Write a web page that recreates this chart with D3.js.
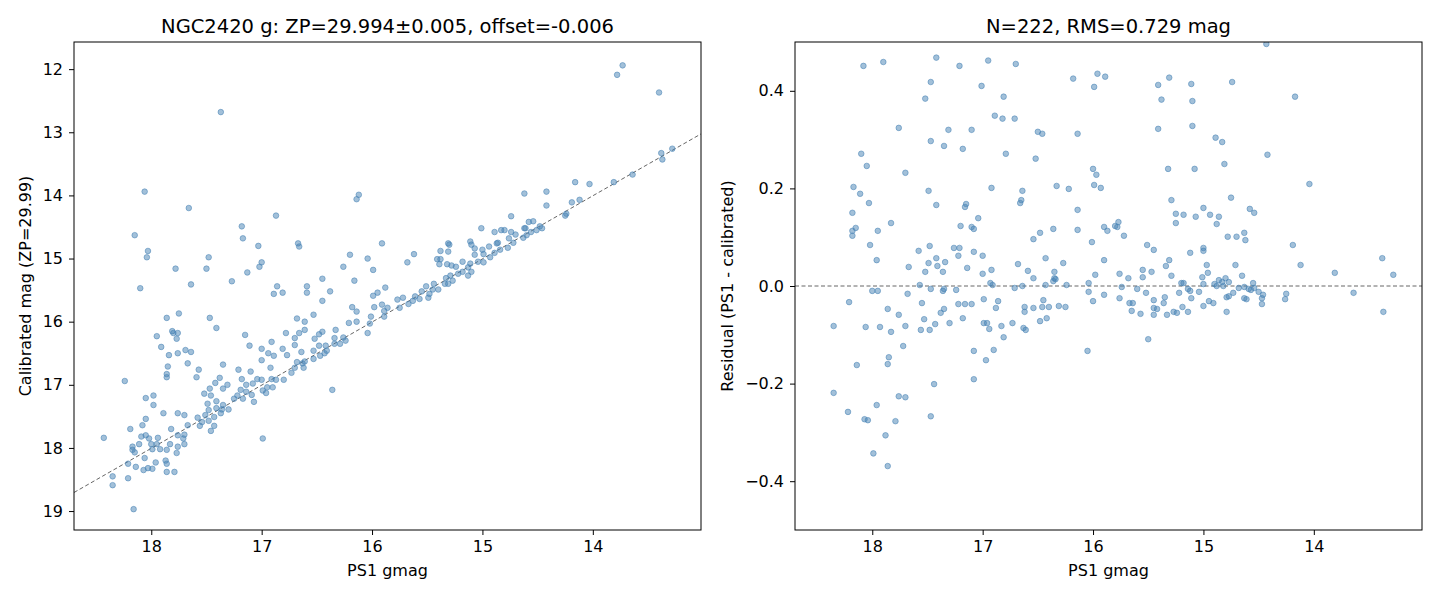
<!DOCTYPE html>
<html>
<head>
<meta charset="utf-8">
<script src="https://cdn.jsdelivr.net/npm/d3@7"></script>
<style>
  body { margin: 0; background: #fff; }
  text { font-family: "DejaVu Sans", sans-serif; fill: #000; }
  .axis text { font-size: 16px; font-family: "DejaVu Sans", sans-serif; }
  .axis path, .axis line { stroke: #000; }
</style>
</head>
<body>
<div id="chart"></div>
<script>
// values
var titleLeft = "NGC2420 g: ZP=29.994\u00b10.005, offset=-0.006";
var titleRight = "N=222, RMS=0.729 mag";
var offset = -0.006;
var magTicks = [18, 17, 16, 15, 14];
var calTicks = [12, 13, 14, 15, 16, 17, 18, 19];
var resTicks = [-0.4, -0.2, 0, 0.2, 0.4];

// [PS1 gmag, calibrated mag]
var calPoints = [
 [13.73,11.94],[13.78,12.09],[13.40,12.37],[17.37,12.68],[13.38,13.33],[13.37,13.43],[13.28,13.26],[13.64,13.67],
 [13.81,13.79],[14.03,13.82],[14.16,13.79],[14.12,14.07],[14.19,14.11],[14.24,14.29],[14.25,14.32],[14.42,13.94],
 [14.42,14.16],[14.62,13.97],[14.74,14.33],[14.58,14.42],[14.54,14.41],[14.62,14.52],[14.61,14.52],[14.46,14.52],
 [14.48,14.49],[14.51,14.55],[14.56,14.58],[14.60,14.63],[14.63,14.67],[14.70,14.62],[14.74,14.58],[14.80,14.55],
 [14.83,14.55],[14.89,14.58],[14.76,14.68],[14.72,14.75],[14.77,14.83],[15.01,14.52],[15.11,14.73],[15.10,14.78],
 [15.07,14.84],[14.94,14.81],[14.87,14.76],[14.86,14.75],[14.99,14.93],[15.00,14.86],[15.07,14.94],[15.04,15.05],
 [14.99,15.06],[14.93,14.98],[14.89,14.91],[14.84,14.86],[15.31,14.76],[15.30,14.78],[15.38,14.88],[15.31,14.89],
 [15.62,14.93],[15.68,15.06],[15.91,14.76],[15.41,15.01],[15.38,15.01],[15.39,15.09],[15.32,15.09],[15.28,15.11],
 [15.24,15.13],[15.18,15.05],[15.11,15.08],[15.13,15.14],[15.18,15.21],[15.22,15.24],[15.29,15.27],[15.33,15.31],
 [15.27,15.35],[15.31,15.40],[15.34,15.40],[15.44,15.40],[15.40,15.49],[15.45,15.49],[15.48,15.56],[15.51,15.44],
 [15.55,15.52],[15.57,15.64],[15.49,15.62],[15.61,15.60],[15.63,15.67],[15.67,15.72],[15.72,15.62],[15.77,15.65],
 [15.75,15.78],[15.86,15.78],[15.88,15.46],[15.91,15.73],[15.89,15.83],[15.89,15.92],[15.13,15.27],[15.10,15.21],
 [18.10,15.47],[17.64,15.41],[17.27,15.36],[16.86,15.44],[16.89,15.56],[16.81,15.54],[16.59,15.44],[16.59,15.54],
 [16.38,15.52],[16.45,15.67],[16.16,15.35],[15.99,15.59],[15.95,15.54],[16.18,15.77],[16.14,15.84],[15.98,15.77],
 [16.01,15.92],[16.14,16.00],[16.21,16.02],[16.04,16.18],[16.02,16.03],[17.86,15.94],[17.75,15.87],[17.47,15.94],
 [17.41,16.10],[17.95,16.23],[17.81,16.15],[17.80,16.18],[17.76,16.18],[17.77,16.27],[17.91,16.40],[17.84,16.53],
 [17.76,16.50],[17.69,16.45],[17.64,16.48],[17.85,16.71],[17.86,16.83],[17.86,16.88],[17.67,16.66],[17.57,16.76],
 [17.59,16.88],[18.24,16.94],[18.05,17.21],[17.98,17.17],[17.98,17.32],[17.89,17.45],[17.76,17.45],[17.70,17.48],
 [18.05,17.54],[18.08,17.64],[18.19,17.70],[17.82,17.70],[17.67,17.64],[18.43,17.84],[18.09,17.82],[18.05,17.80],
 [18.02,17.85],[17.94,17.84],[18.00,17.94],[17.95,17.94],[17.99,18.02],[17.92,18.02],[17.86,18.03],[17.83,17.94],
 [17.76,17.80],[17.70,17.79],[17.71,17.85],[17.76,17.98],[17.70,17.94],[17.77,18.08],[18.17,17.98],[18.17,18.03],
 [18.15,18.07],[18.11,17.94],[18.21,18.25],[18.14,18.30],[18.06,18.16],[17.96,18.23],[18.07,18.35],[18.03,18.32],
 [17.99,18.33],[17.87,18.20],[17.86,18.25],[17.86,18.38],[17.79,18.38],[18.35,18.45],[18.35,18.59],[18.21,18.48],
 [18.16,18.97],[17.35,16.68],[17.38,16.89],[17.42,16.97],[17.31,17.00],[17.35,17.06],[17.47,17.06],[17.52,17.14],
 [17.46,17.17],[17.41,17.26],[17.49,17.30],[17.48,17.40],[17.41,17.37],[17.35,17.32],[17.36,17.39],[17.30,17.39],
 [17.37,17.45],[17.43,17.51],[17.51,17.48],[17.58,17.52],[17.54,17.59],[17.56,17.65],[17.48,17.57],[17.43,17.65],
 [17.46,17.73],[17.21,16.76],[17.10,16.79],[17.18,16.91],[17.14,17.00],[17.08,16.98],[17.04,16.91],[17.00,16.92],
 [17.19,17.08],[17.14,17.11],[17.09,17.16],[17.22,17.17],[17.25,17.22],[17.17,17.22],[17.07,17.27],[16.99,17.09],
 [16.95,17.04],[16.96,17.13],[16.90,17.04],[16.91,16.91],[16.87,16.92],[16.80,16.92],[16.92,16.73],[17.00,16.61],
 [16.94,16.50],[16.89,16.54],[16.81,16.43],[16.77,16.53],[16.91,16.32],[17.00,16.43],[17.11,16.38],[17.15,16.21],
 [16.99,17.85],[16.73,16.81],[16.70,16.73],[16.68,16.64],[16.64,16.48],[16.63,16.66],[16.62,16.73],[16.61,16.63],
 [16.70,16.37],[16.70,16.26],[16.66,16.18],[16.61,16.13],[16.68,15.95],[16.61,16.00],[16.53,15.89],[16.78,16.18],
 [16.53,16.46],[16.53,16.59],[16.48,16.38],[16.52,16.27],[16.48,16.20],[16.45,16.16],[16.47,16.54],[16.42,16.38],
 [16.41,16.46],[16.43,16.50],[16.34,16.26],[16.33,16.13],[16.34,16.35],[16.29,16.35],[16.26,16.25],[16.24,16.30],
 [16.36,17.08],[18.06,13.94],[17.66,14.20],[18.15,14.63],[18.03,14.88],[18.04,14.98],[17.78,15.16],[17.50,15.16],
 [17.48,14.98],[17.18,14.49],[17.17,14.68],[17.03,14.80],[17.00,15.06],[17.02,15.13],[17.13,15.22],[16.87,14.32],
 [16.67,14.76],[16.66,14.81],[16.45,15.32],[16.26,15.13],[16.20,14.94],[16.14,14.06],[16.12,13.99],[16.04,15.00],
 [15.99,15.18]
];

// [PS1 gmag, residual]
var resPoints = [
 [18.08,0.451],[17.90,0.459],[17.42,0.468],[17.21,0.451],[16.95,0.462],[16.70,0.455],[17.47,0.418],[17.01,0.410],
 [17.52,0.384],[16.81,0.388],[16.89,0.349],[16.82,0.343],[16.71,0.343],[17.76,0.324],[17.31,0.320],[17.10,0.320],
 [17.47,0.297],[17.35,0.287],[17.18,0.281],[16.50,0.316],[16.46,0.312],[16.14,0.312],[16.18,0.425],[15.96,0.435],
 [15.89,0.429],[15.99,0.408],[16.79,0.271],[16.52,0.261],[18.10,0.271],[18.05,0.246],[17.70,0.232],[18.17,0.203],
 [18.11,0.189],[18.03,0.170],[18.18,0.150],[18.15,0.119],[18.18,0.113],[18.18,0.103],[17.95,0.113],[17.83,0.129],
 [18.02,0.084],[17.96,0.053],[17.49,0.195],[17.42,0.166],[16.92,0.201],[16.64,0.195],[16.65,0.176],[16.66,0.170],
 [17.15,0.168],[17.16,0.162],[16.33,0.205],[16.22,0.199],[16.00,0.240],[15.97,0.228],[15.99,0.207],[15.93,0.201],
 [16.14,0.156],[17.04,0.139],[17.20,0.123],[17.10,0.121],[17.08,0.117],[16.36,0.117],[16.48,0.109],[16.54,0.096],
 [16.14,0.115],[15.90,0.121],[15.87,0.113],[16.01,0.090],[17.48,0.082],[17.26,0.078],[17.21,0.078],[17.58,0.072],
 [17.22,0.062],[17.08,0.070],[17.00,0.062],[17.42,0.057],[17.34,0.049],[17.49,0.047],[17.41,0.041],[17.67,0.039],
 [17.52,0.029],[17.36,0.029],[17.14,0.037],[17.00,0.025],[16.92,0.033],[16.68,0.045],[16.59,0.031],[16.43,0.057],
 [16.27,0.047],[16.54,0.016],[16.35,0.029],[16.35,0.016],[16.34,0.014],[16.36,0.010],[15.90,0.053],[15.98,0.023],
 [16.04,0.006],[16.93,0.006],[16.91,0.002],[17.57,0.002],[16.24,0.002],[16.43,0.002],[16.64,0.000],[16.71,-0.004],
 [18.00,-0.010],[17.95,-0.010],[17.68,-0.016],[17.47,-0.006],[17.36,-0.010],[17.35,-0.006],[17.24,-0.008],[16.04,-0.012],
 [16.00,-0.031],[15.90,-0.018],[18.21,-0.033],[18.35,-0.082],[18.06,-0.084],[17.93,-0.084],[17.86,-0.047],[17.76,-0.059],
 [17.83,-0.094],[17.70,-0.082],[17.55,-0.035],[17.53,-0.068],[17.56,-0.090],[17.48,-0.090],[17.43,-0.078],[17.38,-0.055],
 [17.35,-0.047],[17.30,-0.076],[17.22,-0.037],[17.16,-0.037],[17.10,-0.037],[17.18,-0.066],[16.99,-0.027],[16.86,-0.031],
 [16.88,-0.045],[16.99,-0.076],[16.96,-0.076],[16.94,-0.088],[16.83,-0.082],[16.81,-0.105],[16.73,-0.076],[16.62,-0.043],
 [16.62,-0.053],[16.54,-0.045],[16.46,-0.043],[16.40,-0.043],[16.45,-0.029],[16.31,-0.041],[16.25,-0.043],[16.42,-0.066],
 [16.48,-0.072],[16.63,-0.086],[16.61,-0.090],[17.08,-0.133],[16.90,-0.131],[16.97,-0.152],[17.08,-0.191],[16.05,-0.133],
 [17.72,-0.123],[17.85,-0.146],[17.86,-0.160],[18.14,-0.162],[17.44,-0.201],[18.35,-0.219],[17.76,-0.226],[17.70,-0.228],
 [17.96,-0.244],[18.22,-0.258],[18.07,-0.273],[18.04,-0.275],[17.79,-0.277],[17.47,-0.267],[17.88,-0.306],[17.99,-0.343],
 [17.86,-0.369],[14.43,0.496],[15.41,0.412],[15.31,0.427],[15.11,0.414],[14.74,0.418],[15.38,0.382],[15.10,0.379],
 [14.17,0.388],[15.41,0.322],[15.10,0.328],[14.89,0.304],[14.83,0.295],[14.42,0.269],[14.81,0.250],[15.32,0.240],
 [15.08,0.240],[14.04,0.209],[15.29,0.176],[14.75,0.181],[15.00,0.160],[15.25,0.148],[15.18,0.146],[15.25,0.129],
 [15.07,0.142],[14.94,0.146],[14.86,0.142],[14.88,0.127],[14.58,0.158],[14.54,0.150],[15.78,0.121],[15.77,0.131],
 [15.72,0.103],[14.78,0.101],[14.70,0.101],[14.63,0.109],[14.62,0.094],[15.51,0.084],[15.45,0.074],[15.12,0.068],
 [15.00,0.078],[15.00,0.072],[14.19,0.084],[15.31,0.053],[15.34,0.041],[14.97,0.043],[14.71,0.043],[14.12,0.043],
 [13.38,0.057],[13.28,0.023],[13.81,0.027],[15.76,0.025],[15.68,0.016],[15.55,0.033],[15.55,0.018],[15.47,0.029],
 [15.29,0.021],[15.01,0.018],[14.96,0.027],[14.65,0.021],[14.80,0.016],[15.20,0.006],[15.18,0.006],[15.00,0.004],
 [14.86,0.012],[14.83,0.008],[14.77,0.008],[14.90,0.004],[14.88,0.000],[14.82,0.000],[14.55,0.006],[15.74,-0.002],
 [15.60,-0.006],[15.52,-0.014],[15.22,-0.014],[15.14,-0.006],[15.12,-0.010],[15.04,-0.012],[14.68,-0.004],[14.63,-0.002],
 [14.59,-0.006],[14.57,-0.008],[14.54,-0.004],[14.50,-0.012],[14.73,-0.014],[14.46,-0.018],[14.25,-0.016],[13.64,-0.014],
 [15.76,-0.025],[15.45,-0.029],[15.35,-0.023],[15.11,-0.025],[14.79,-0.023],[14.77,-0.021],[14.63,-0.025],[14.61,-0.027],
 [14.47,-0.025],[14.26,-0.027],[15.67,-0.035],[15.64,-0.035],[15.36,-0.035],[14.95,-0.031],[14.91,-0.035],[14.47,-0.037],
 [15.45,-0.045],[15.42,-0.047],[15.19,-0.043],[15.00,-0.041],[15.65,-0.051],[15.57,-0.057],[15.45,-0.059],[15.33,-0.059],
 [15.27,-0.053],[15.24,-0.055],[15.14,-0.053],[14.79,-0.053],[13.37,-0.053],[15.50,-0.109],[15.80,0.123]
];

var W = 1440, H = 600;
var svg = d3.select("#chart").append("svg").attr("width", W).attr("height", H);

var plotTop = 42, plotBottom = 530;
var fmt = function(d) { return d3.format(".1f")(d).replace("-", "\u2212"); };

function panel(x0, x1, yDomain, yTicks, yFmt, points, title, ylabel, labelGap, refLine) {
  var x = d3.scaleLinear().domain([18.70, 13.02]).range([x0, x1]);
  var y = d3.scaleLinear().domain(yDomain).range([plotTop, plotBottom]);
  var g = svg.append("g");

  g.append("g").attr("class", "axis").attr("transform", "translate(0," + plotBottom + ")")
    .call(d3.axisBottom(x).tickValues(magTicks).tickFormat(d3.format("d")).tickSize(5).tickPadding(6).tickSizeOuter(0))
    .call(function(a) { a.select(".domain").remove(); });
  g.append("g").attr("class", "axis").attr("transform", "translate(" + x0 + ",0)")
    .call(d3.axisLeft(y).tickValues(yTicks).tickFormat(yFmt).tickSize(5).tickPadding(6).tickSizeOuter(0))
    .call(function(a) { a.select(".domain").remove(); });

  var clip = "clip" + x0;
  g.append("clipPath").attr("id", clip).append("rect")
    .attr("x", x0).attr("y", plotTop).attr("width", x1 - x0).attr("height", plotBottom - plotTop);

  // reference line
  g.append("line")
    .attr("clip-path", "url(#" + clip + ")")
    .attr("x1", x0).attr("x2", x1)
    .attr("y1", y(refLine(18.70))).attr("y2", y(refLine(13.02)))
    .attr("stroke", "#666").attr("stroke-width", 1).attr("stroke-dasharray", "4,2.5");

  g.append("g").attr("clip-path", "url(#" + clip + ")")
    .selectAll("circle").data(points).enter().append("circle")
    .attr("cx", function(d) { return x(d[0]); })
    .attr("cy", function(d) { return y(d[1]); })
    .attr("r", 2.8)
    .attr("fill", "steelblue").attr("fill-opacity", 0.5)
    .attr("stroke", "steelblue").attr("stroke-opacity", 0.6).attr("stroke-width", 0.9);

  g.append("rect").attr("x", x0).attr("y", plotTop).attr("width", x1 - x0).attr("height", plotBottom - plotTop)
    .attr("fill", "none").attr("stroke", "#000").attr("stroke-width", 1);

  g.append("text").attr("x", (x0 + x1) / 2).attr("y", 33).attr("text-anchor", "middle")
    .style("font-size", "19.5px").text(title);
  g.append("text").attr("x", (x0 + x1) / 2).attr("y", 576).attr("text-anchor", "middle")
    .style("font-size", "16px").text("PS1 gmag");
  g.append("text").attr("transform", "translate(" + (x0 - labelGap) + "," + ((plotTop + plotBottom) / 2) + ") rotate(-90)")
    .attr("text-anchor", "middle").style("font-size", "16px").text(ylabel);
}

panel(74, 701, [11.57, 19.30], calTicks, d3.format("d"), calPoints, titleLeft,
  "Calibrated mag (ZP=29.99)", 43, function(m) { return m - offset; });
panel(795, 1422, [0.5, -0.5], resTicks, fmt, resPoints, titleRight,
  "Residual (PS1 - calibrated)", 62, function() { return 0; });
</script>
</body>
</html>
